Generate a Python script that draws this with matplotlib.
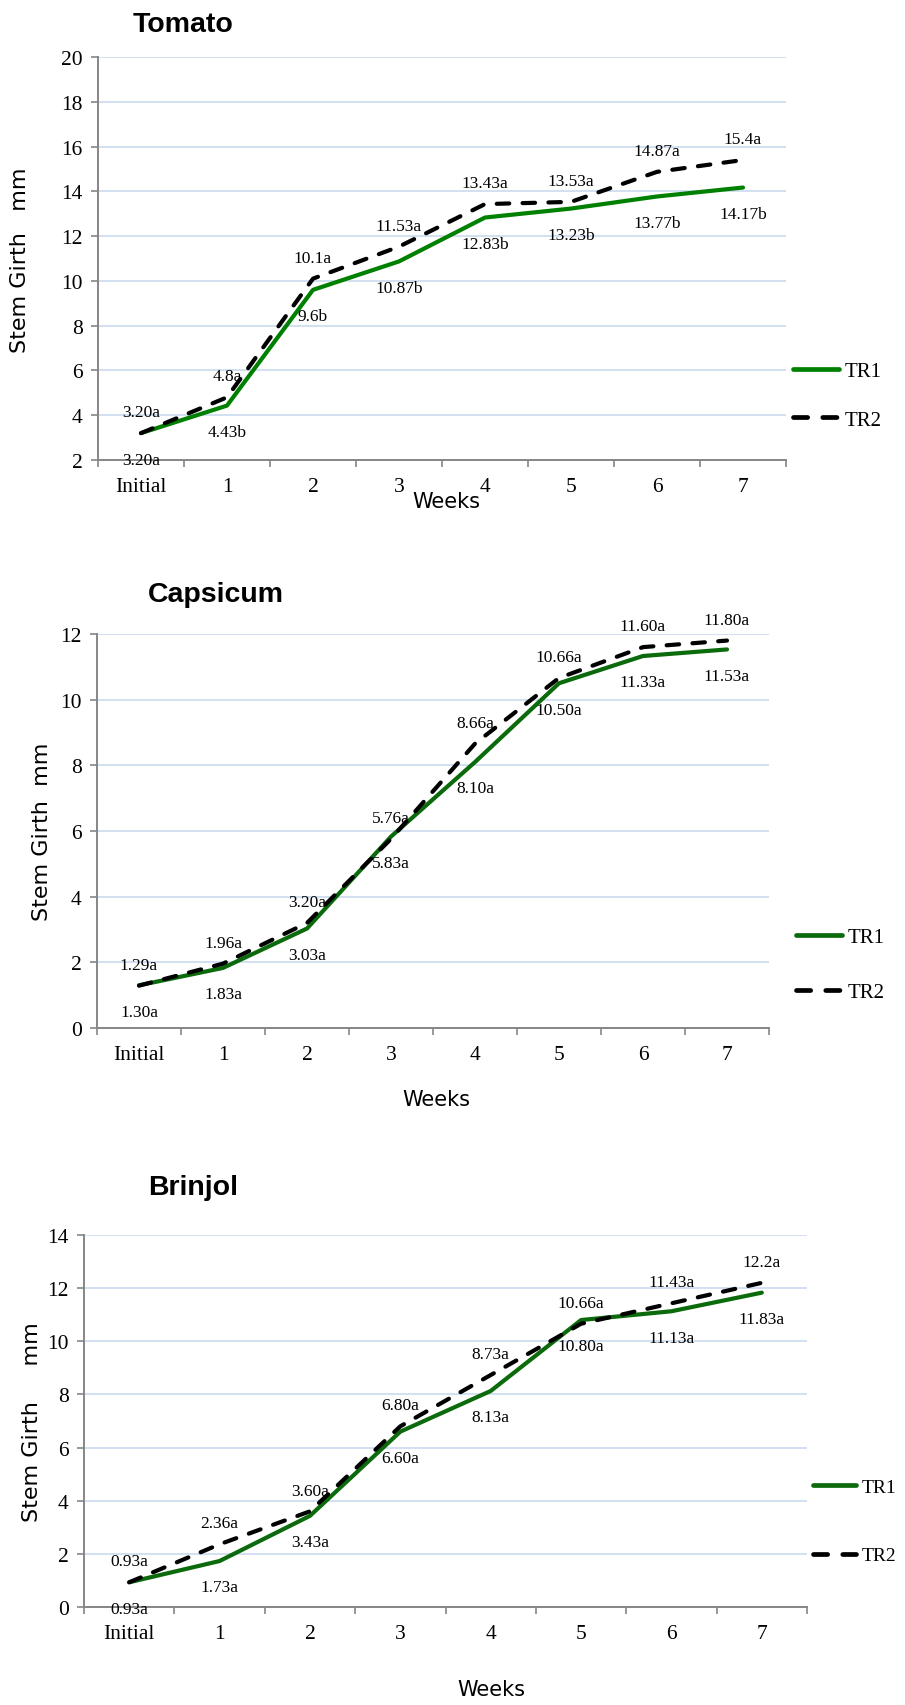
import matplotlib
matplotlib.use('Agg')
import matplotlib.pyplot as plt
from matplotlib.ticker import FixedLocator

# week categories shared by all three crops
weeks = ['Initial', '1', '2', '3', '4', '5', '6', '7']

# stem girth (mm) with significance letters, as printed on the chart
tomato_tr1 = ['3.20a', '4.43b', '9.6b', '10.87b', '12.83b', '13.23b', '13.77b', '14.17b']
tomato_tr2 = ['3.20a', '4.8a', '10.1a', '11.53a', '13.43a', '13.53a', '14.87a', '15.4a']

capsicum_tr1 = ['1.30a', '1.83a', '3.03a', '5.83a', '8.10a', '10.50a', '11.33a', '11.53a']
capsicum_tr2 = ['1.29a', '1.96a', '3.20a', '5.76a', '8.66a', '10.66a', '11.60a', '11.80a']

brinjol_tr1 = ['0.93a', '1.73a', '3.43a', '6.60a', '8.13a', '10.80a', '11.13a', '11.83a']
brinjol_tr2 = ['0.93a', '2.36a', '3.60a', '6.80a', '8.73a', '10.66a', '11.43a', '12.2a']

SERIF = 'Liberation Serif'
SANS = 'Liberation Sans'
AXIS_GREY = '#868686'
GRID_BLUE = '#c6d7ee'


def values(labels):
    # strip the trailing letter to get the number
    return [float(s[:-1]) for s in labels]


def panel(rect, tr1, tr2, ylim, green, title, title_xy, ylabel, ylabel_xy,
          xlabel_xy, legend_y, legend_x, spacing, legend_size=15):
    ax = fig.add_axes(rect)
    x = list(range(len(weeks)))
    y1 = values(tr1)
    y2 = values(tr2)

    ax.plot(x, y1, color=green, lw=3.0, solid_capstyle='round', label='TR1', zorder=3)
    ax.plot(x, y2, color='black', lw=3.0, dashes=(3, 3.2), dash_capstyle='round',
            label='TR2', zorder=4)

    # value labels: TR2 above the point, TR1 below
    for xi, v, s in zip(x, y2, tr2):
        ax.annotate(s, (xi, v), xytext=(0, 15), textcoords='offset points',
                    ha='center', va='center', fontsize=12.5, family=SERIF, zorder=5)
    for xi, v, s in zip(x, y1, tr1):
        ax.annotate(s, (xi, v), xytext=(0, -19), textcoords='offset points',
                    ha='center', va='center', fontsize=12.5, family=SERIF, zorder=5)

    ax.set_xlim(-0.5, len(weeks) - 0.5)
    ax.set_ylim(*ylim)
    ax.set_yticks(range(ylim[0], ylim[1] + 1, 2))
    ax.set_xticks(x)
    ax.set_xticklabels(weeks)
    ax.xaxis.set_minor_locator(FixedLocator([i - 0.5 for i in range(len(weeks) + 1)]))

    ax.tick_params(axis='x', which='major', length=0, pad=12, labelsize=15.5)
    ax.tick_params(axis='x', which='minor', length=5, width=1.2, color=AXIS_GREY,
                   direction='out')
    ax.tick_params(axis='y', length=5, width=1.2, color=AXIS_GREY, direction='out',
                   pad=6, labelsize=15.5)
    for lab in ax.get_xticklabels() + ax.get_yticklabels():
        lab.set_family(SERIF)

    ax.grid(axis='y', color=GRID_BLUE, lw=1.1, zorder=0)
    ax.set_axisbelow(True)
    for side in ('top', 'right'):
        ax.spines[side].set_visible(False)
    for side in ('left', 'bottom'):
        ax.spines[side].set_color(AXIS_GREY)
        ax.spines[side].set_linewidth(1.4)

    leg = ax.legend(loc='center left', bbox_to_anchor=(legend_x, legend_y),
                    frameon=False, prop={'family': SERIF, 'size': legend_size},
                    handlelength=2.2, handletextpad=0.3, labelspacing=spacing,
                    borderpad=0, borderaxespad=0)
    for line in leg.get_lines():
        line.set_linewidth(3.4)

    fig.text(title_xy[0] / W, 1 - title_xy[1] / H, title, family=SANS,
             fontweight='bold', fontsize=20.5, ha='left', va='baseline')
    fig.text(ylabel_xy[0] / W, 1 - ylabel_xy[1] / H, ylabel, family='DejaVu Sans',
             fontsize=16, rotation=90, ha='center', va='center')
    fig.text(xlabel_xy[0] / W, 1 - xlabel_xy[1] / H, 'Weeks', family='DejaVu Sans',
             fontsize=15, ha='center', va='center')
    return ax


W, H = 905, 1706
fig = plt.figure(figsize=(W / 100, H / 100), dpi=100)
fig.patch.set_facecolor('white')

# Tomato
panel([98 / W, 1 - 461 / H, 688 / W, 403 / H], tomato_tr1, tomato_tr2, (2, 20),
      '#008000', 'Tomato', (133, 32), 'Stem Girth   mm', (20, 260),
      (446, 502), 0.16, 1.01, 1.4)

# Capsicum
panel([97 / W, 1 - 1029 / H, 672 / W, 394 / H], capsicum_tr1, capsicum_tr2, (0, 12),
      '#0b6a0b', 'Capsicum', (148, 602), 'Stem Girth  mm', (42, 832),
      (436, 1100), 0.16, 1.04, 1.7)

# Brinjol, legend kept a little smaller so it fits the right edge
panel([84 / W, 1 - 1608 / H, 723 / W, 372 / H], brinjol_tr1, brinjol_tr2, (0, 14),
      '#0b6a0b', 'Brinjol', (148, 1195), 'Stem Girth     mm', (32, 1422),
      (491, 1690), 0.23, 1.008, 2.6, legend_size=14)

fig.savefig('out.png', dpi=100)
